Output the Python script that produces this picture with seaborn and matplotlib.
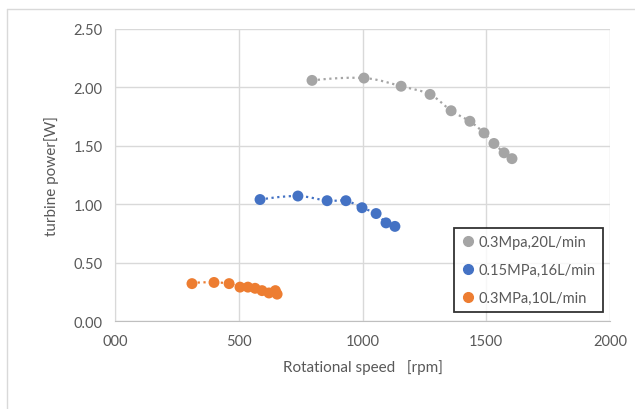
import numpy as np
import pandas as pd
import matplotlib
matplotlib.use('Agg')
import matplotlib.pyplot as plt
import seaborn as sns
from matplotlib.lines import Line2D

# data
speed_a = [796, 1006, 1156, 1273, 1358, 1434, 1491, 1531, 1572, 1604]
power_a = [2.06, 2.08, 2.01, 1.94, 1.80, 1.71, 1.61, 1.52, 1.44, 1.39]
speed_b = [586, 739, 857, 933, 998, 1055, 1095, 1131]
power_b = [1.04, 1.07, 1.03, 1.03, 0.97, 0.92, 0.84, 0.81]
speed_c = [311, 400, 461, 505, 537, 566, 594, 622, 648, 655]
power_c = [0.32, 0.33, 0.32, 0.29, 0.29, 0.28, 0.26, 0.24, 0.26, 0.23]
labels = ['0.3Mpa,20L/min', '0.15MPa,16L/min', '0.3MPa,10L/min']
colors = ['#A5A5A5', '#4472C4', '#ED7D31']
xtick_vals = [0, 500, 1000, 1500, 2000]
xtick_labels = ['000', '500', '1000', '1500', '2000']
ytick_vals = [0, 0.5, 1.0, 1.5, 2.0, 2.5]

df = pd.concat([
    pd.DataFrame({'speed': speed_a, 'power': power_a, 'series': labels[0]}),
    pd.DataFrame({'speed': speed_b, 'power': power_b, 'series': labels[1]}),
    pd.DataFrame({'speed': speed_c, 'power': power_c, 'series': labels[2]}),
])

sns.set_style('white')
plt.rcParams['font.family'] = ['Lato', 'DejaVu Sans']


def smooth(x, y, n=20):
    # catmull-rom style smoothing, roughly like excel's smoothed line
    x = np.asarray(x, float)
    y = np.asarray(y, float)
    px = np.concatenate([[x[0] - (x[1] - x[0])], x, [2 * x[-1] - x[-2]]])
    py = np.concatenate([[y[1] - 0.1], y, [2 * y[-1] - y[-2]]])
    xs, ys = [], []
    t = np.linspace(0, 1, n)
    for i in range(1, len(px) - 2):
        for arr, out in ((px, xs), (py, ys)):
            p0, p1, p2, p3 = arr[i - 1], arr[i], arr[i + 1], arr[i + 2]
            out.extend(0.5 * ((2 * p1) + (-p0 + p2) * t
                              + (2 * p0 - 5 * p1 + 4 * p2 - p3) * t ** 2
                              + (-p0 + 3 * p1 - 3 * p2 + p3) * t ** 3))
    return xs, ys


fig = plt.figure(figsize=(6.35, 4.10), dpi=100)
ax = fig.add_axes([115 / 635, 1 - 322 / 410, 495 / 635, 292 / 410])

for (sx, sy), c in zip([(speed_a, power_a), (speed_b, power_b), (speed_c, power_c)], colors):
    lx, ly = smooth(sx, sy)
    ax.plot(lx, ly, linestyle=(0, (1, 1.6)), color=c, lw=1.6, zorder=2)

sns.scatterplot(data=df, x='speed', y='power', hue='series', palette=colors,
                s=62, edgecolor='none', ax=ax, legend=False, zorder=3)

ax.set_xlim(0, 2000)
ax.set_ylim(0, 2.5)
ax.set_xticks(xtick_vals)
ax.set_xticklabels(xtick_labels)
ax.set_yticks(ytick_vals)
ax.set_yticklabels([f'{v:.2f}' for v in ytick_vals])
ax.grid(True, color='#D9D9D9', lw=1)
ax.set_axisbelow(True)
for s in ax.spines.values():
    s.set_visible(False)
ax.spines['bottom'].set_visible(True)
ax.spines['bottom'].set_color('#BFBFBF')
ax.spines['left'].set_visible(True)
ax.spines['left'].set_color('#D9D9D9')
ax.tick_params(length=0, labelsize=10.5, labelcolor='#595959', pad=9)

ax.set_xlabel('Rotational speed   [rpm]', fontsize=11, color='#595959', labelpad=8)
ax.set_ylabel('turbine power[W]', fontsize=11, color='#595959', labelpad=10)

handles = [Line2D([], [], marker='o', ls='none', color=c, markersize=7) for c in colors]
leg = ax.legend(handles, labels, loc='lower right', bbox_to_anchor=(1.0, 0.005),
                frameon=True, fancybox=False, fontsize=10.5, handletextpad=0.2,
                labelspacing=0.95, borderpad=0.5, handlelength=1.0,
                labelcolor='#595959')
leg.get_frame().set_edgecolor('black')
leg.get_frame().set_linewidth(1.3)

# outer chart border
fig.add_artist(Line2D([7 / 635, 1], [1 - 10 / 410, 1 - 10 / 410], color='#D9D9D9', lw=1))
fig.add_artist(Line2D([7 / 635, 7 / 635], [0, 1 - 10 / 410], color='#D9D9D9', lw=1))

fig.savefig('out.png', dpi=100)
